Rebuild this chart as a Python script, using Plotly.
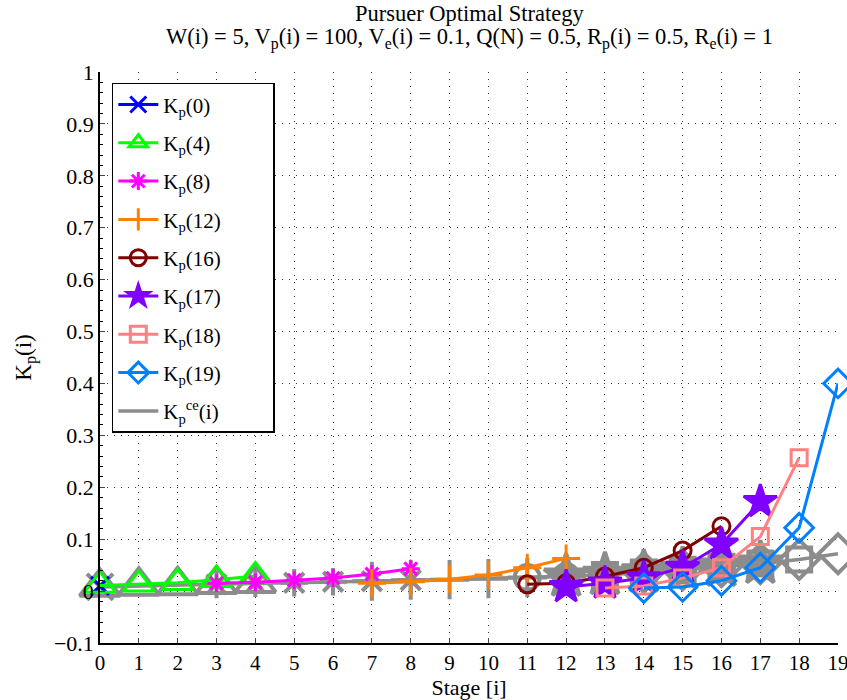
import plotly.graph_objects as go

# ---- data ----
stages = list(range(20))
ce_values = [0.008, 0.010, 0.011, 0.013, 0.015, 0.016, 0.018, 0.019, 0.021, 0.022,
             0.024, 0.026, 0.028, 0.031, 0.036, 0.041, 0.047, 0.053, 0.061, 0.072]

kp0_x = [0]
kp0_y = [0.010]
kp4_x = [0, 1, 2, 3, 4]
kp4_y = [0.011, 0.013, 0.016, 0.022, 0.029]
kp8_x = [3, 4, 5, 6, 7, 8]
kp8_y = [0.015, 0.017, 0.021, 0.025, 0.033, 0.043]
kp12_x = [7, 8, 9, 10, 11, 12]
kp12_y = [0.015, 0.018, 0.023, 0.031, 0.045, 0.063]
kp16_x = [11, 12, 13, 14, 15, 16]
kp16_y = [0.013, 0.015, 0.028, 0.045, 0.078, 0.125]
kp17_x = [12, 13, 14, 15, 16, 17]
kp17_y = [0.008, 0.015, 0.025, 0.045, 0.090, 0.172]
kp18_x = [13, 14, 15, 16, 17, 18]
kp18_y = [0.006, 0.010, 0.025, 0.045, 0.105, 0.257]
kp19_x = [14, 15, 16, 17, 18, 19]
kp19_y = [0.006, 0.008, 0.020, 0.045, 0.122, 0.400]

series_names = ["K<sub>p</sub>(0)", "K<sub>p</sub>(4)", "K<sub>p</sub>(8)", "K<sub>p</sub>(12)",
                "K<sub>p</sub>(16)", "K<sub>p</sub>(17)", "K<sub>p</sub>(18)", "K<sub>p</sub>(19)"]
ce_name = "K<sub>p</sub><sup>ce</sup>(i)"
title_line1 = "Pursuer Optimal Strategy"
title_line2 = ("W(i) = 5, V<sub>p</sub>(i) = 100, V<sub>e</sub>(i) = 0.1, "
               "Q(N) = 0.5, R<sub>p</sub>(i) = 0.5, R<sub>e</sub>(i) = 1")
x_ticks = list(range(20))
y_ticks = [-0.1, 0, 0.1, 0.2, 0.3, 0.4, 0.5, 0.6, 0.7, 0.8, 0.9, 1]
y_tick_text = ["\u22120.1", "0", "0.1", "0.2", "0.3", "0.4", "0.5", "0.6", "0.7", "0.8", "0.9", "1"]

# ---- styles ----
series_x = [kp0_x, kp4_x, kp8_x, kp12_x, kp16_x, kp17_x, kp18_x, kp19_x]
series_y = [kp0_y, kp4_y, kp8_y, kp12_y, kp16_y, kp17_y, kp18_y, kp19_y]
colors = ["#0000FF", "#00FF00", "#FF00FF", "#FF8000", "#800000", "#8000FF", "#FF8080", "#0080FF"]
symbols = ["x-thin-open", "triangle-up-open", "asterisk-open", "cross-thin-open",
           "circle-open", "star", "square-open", "diamond-open"]
sizes = [18, 27, 15, 20, 17, 25, 16, 22]
GRAY = "#8C8C8C"
FONT = "Liberation Serif"
PAD = "\u00a0" * 9

fig = go.Figure()

# gray CE line (continuous)
fig.add_trace(go.Scatter(x=stages, y=ce_values, mode="lines", name=ce_name + PAD,
                         line=dict(color=GRAY, width=3.5), legendrank=9,
                         legendgroup="ce", cliponaxis=False))

# gray CE markers for each series
for xs, sym, sz in zip(series_x, symbols, sizes):
    yv = [ce_values[s] for s in xs]
    fig.add_trace(go.Scatter(x=xs, y=yv, mode="markers", showlegend=False,
                             marker=dict(symbol=sym, size=sz + 8,
                                         color=GRAY,
                                         line=dict(color=GRAY, width=4)),
                             cliponaxis=False, hoverinfo="skip"))

# colored series
for i, (xs, ys, nm, col, sym, sz) in enumerate(zip(series_x, series_y, series_names, colors, symbols, sizes)):
    fig.add_trace(go.Scatter(x=xs, y=ys, mode="lines+markers", name=nm + PAD,
                             line=dict(color=col, width=3),
                             marker=dict(symbol=sym, size=sz, color=col,
                                         line=dict(color=col, width=3)),
                             legendrank=i + 1, legendgroup="g%d" % i,
                             cliponaxis=False))

fig.add_annotation(text=title_line1, xref="paper", yref="paper", x=0.5, y=(643 - 13) / 571,
                   xanchor="center", yanchor="middle", showarrow=False,
                   font=dict(family=FONT, size=22.5))
fig.add_annotation(text=title_line2, xref="paper", yref="paper", x=0.5, y=(643 - 39) / 571,
                   xanchor="center", yanchor="middle", showarrow=False,
                   font=dict(family=FONT, size=22.5))

fig.update_layout(
    width=847, height=700,
    margin=dict(l=100, r=9, t=72, b=57, autoexpand=False),
    paper_bgcolor="white", plot_bgcolor="white",
    font=dict(family=FONT, size=21, color="black"),
    showlegend=True,
    legend=dict(x=0.016, y=0.981, xanchor="left", yanchor="top",
                bgcolor="white", bordercolor="black", borderwidth=1.5,
                font=dict(family=FONT, size=21), traceorder="grouped",
                tracegroupgap=8, itemwidth=40),
    xaxis=dict(range=[0, 19], tickvals=x_ticks, ticks="inside", ticklen=5,
               showline=True, linecolor="black", linewidth=1.5, automargin=False,
               ticklabeloverflow="allow",
               showgrid=True, gridcolor="#333", griddash="1px,6px", gridwidth=1,
               zeroline=False,
               title=dict(text="Stage [i]", standoff=4,
                          font=dict(family=FONT, size=22, color="black")),
               tickfont=dict(family=FONT, size=21, color="black")),
    yaxis=dict(range=[-0.1, 1], tickvals=y_ticks, ticktext=y_tick_text,
               ticks="inside", ticklen=5, automargin=False,
               showline=True, linecolor="black", linewidth=1.5,
               showgrid=True, gridcolor="#333", griddash="1px,6px", gridwidth=1,
               zeroline=False,
               title=dict(text="K<sub>p</sub>(i)", standoff=16,
                          font=dict(family=FONT, size=23, color="black")),
               tickfont=dict(family=FONT, size=22, color="black"),
               minor=dict(ticks="inside", ticklen=3, dtick=0.02, showgrid=False,
                          tickcolor="black")),
)

fig.write_html("out.html")
